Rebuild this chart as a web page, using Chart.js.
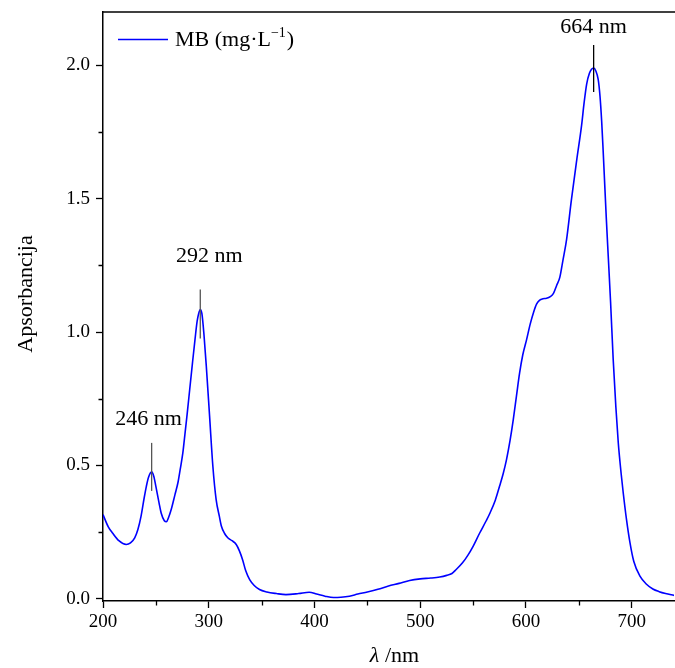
<!DOCTYPE html>
<html>
<head>
<meta charset="utf-8">
<script src="https://cdn.jsdelivr.net/npm/chart.js@4.4.1/dist/chart.umd.min.js"></script>
<style>
  html, body { margin: 0; padding: 0; background: #ffffff; }
  canvas { display: block; }
</style>
</head>
<body>
<canvas id="c" width="675" height="668"></canvas>
<script>
// ---- data ----
const wavelength = [
  200, 205, 209, 215, 222, 226, 230, 233, 236, 239, 241, 243, 246, 248, 250, 253, 255, 258, 260, 262,
  264.5, 268, 271, 273, 275.5, 277, 279.5, 282, 284.5, 287, 289, 290.5, 292, 293.5, 295.5, 297.7, 300.8, 303.9, 307, 310,
  312, 315, 318, 322, 326, 329, 332, 335, 338.7, 343, 348, 355, 364, 373, 385, 395, 402, 410, 418, 425,
  433, 441, 450, 460, 470, 480, 490, 500, 510, 518.5, 525, 530, 534, 540, 545, 550, 556, 562, 566, 571,
  575, 578.5, 581.6, 585, 588, 591, 594, 597, 600.6, 604, 607, 610, 613, 616, 619.5, 623, 626, 629, 632, 635,
  638.4, 643, 648, 652.6, 655, 657.4, 660, 662, 664, 666, 668.3, 670, 671.6, 673, 674.7, 676, 677.8, 680, 682.5, 685,
  687.3, 690, 692, 695, 698.4, 702, 707.8, 714, 720, 726, 732, 740
];
const absorbance = [
  0.316, 0.270, 0.247, 0.218, 0.204, 0.210, 0.229, 0.260, 0.310, 0.380, 0.422, 0.455, 0.476, 0.460, 0.422, 0.360, 0.322, 0.293, 0.289, 0.305,
  0.335, 0.390, 0.438, 0.485, 0.547, 0.600, 0.690, 0.785, 0.880, 0.972, 1.040, 1.070, 1.085, 1.070, 0.990, 0.872, 0.685, 0.497, 0.372, 0.310,
  0.272, 0.245, 0.229, 0.218, 0.204, 0.180, 0.147, 0.105, 0.072, 0.050, 0.035, 0.026, 0.020, 0.016, 0.020, 0.025, 0.018, 0.010, 0.005, 0.006,
  0.010, 0.018, 0.026, 0.036, 0.048, 0.058, 0.069, 0.075, 0.078, 0.082, 0.088, 0.095, 0.110, 0.135, 0.163, 0.197, 0.245, 0.290, 0.322, 0.370,
  0.422, 0.470, 0.522, 0.595, 0.672, 0.760, 0.847, 0.915, 0.972, 1.030, 1.072, 1.105, 1.120, 1.125, 1.127, 1.133, 1.145, 1.175, 1.205, 1.270,
  1.347, 1.497, 1.645, 1.775, 1.860, 1.930, 1.970, 1.985, 1.990, 1.980, 1.947, 1.885, 1.790, 1.680, 1.535, 1.425, 1.285, 1.115, 0.897, 0.720,
  0.585, 0.470, 0.397, 0.300, 0.210, 0.140, 0.085, 0.055, 0.037, 0.027, 0.020, 0.013
];
const xMajorTicks = [200, 300, 400, 500, 600, 700];
const xMinorTicks = [250, 350, 450, 550, 650];
const yMajorTicks = [0, 0.5, 1.0, 1.5, 2.0];
const yMinorTicks = [0.25, 0.75, 1.25, 1.75];
const peakWavelengths = [246, 292, 664];
const peakLabels = ['246 nm', '292 nm', '664 nm'];
const seriesLabel = 'MB (mg\u00B7L';
const xTitleSymbol = '\u03BB';
const xTitleUnit = ' /nm';
const yTitle = 'Apsorbancija';

// ---- styling ----
const SERIF = '"Liberation Serif", "Times New Roman", serif';
const peakStyles = [
  { color: '#555555', up: 29, down: 19, dx: -3, textUp: 47 },
  { color: '#555555', up: 20, down: 29, dx: 9, textUp: 47 },
  { color: '#000000', up: 23, down: 24, dx: 0, textUp: 35 }
];

const points = wavelength.map((x, i) => ({ x: x, y: absorbance[i] }));

const extras = {
  id: 'extras',
  afterDatasetsDraw(chart) {
    const ctx = chart.ctx;
    const area = chart.chartArea;
    const xs = chart.scales.x, ys = chart.scales.y;
    ctx.save();

    // top frame line
    ctx.strokeStyle = '#000';
    ctx.lineWidth = 1.5;
    ctx.beginPath();
    ctx.moveTo(area.left - 0.75, area.top);
    ctx.lineTo(chart.width, area.top);
    ctx.stroke();

    // minor ticks
    ctx.lineWidth = 1.3;
    ctx.beginPath();
    xMinorTicks.forEach(v => {
      const px = Math.round(xs.getPixelForValue(v)) + 0.5;
      ctx.moveTo(px, area.bottom);
      ctx.lineTo(px, area.bottom + 4.5);
    });
    yMinorTicks.forEach(v => {
      const py = Math.round(ys.getPixelForValue(v)) + 0.5;
      ctx.moveTo(area.left, py);
      ctx.lineTo(area.left - 4.5, py);
    });
    ctx.stroke();

    // peak markers and labels
    peakWavelengths.forEach((w, i) => {
      const idx = wavelength.indexOf(w);
      const px = xs.getPixelForValue(w);
      const py = ys.getPixelForValue(absorbance[idx]);
      const st = peakStyles[i];
      ctx.strokeStyle = st.color;
      ctx.lineWidth = 1.3;
      ctx.beginPath();
      ctx.moveTo(px, py - st.up);
      ctx.lineTo(px, py + st.down);
      ctx.stroke();
      ctx.fillStyle = '#000';
      ctx.font = '22px ' + SERIF;
      ctx.textAlign = 'center';
      ctx.textBaseline = 'alphabetic';
      ctx.fillText(peakLabels[i], px + st.dx, py - st.textUp);
    });

    // legend
    ctx.strokeStyle = '#0000ff';
    ctx.lineWidth = 1.5;
    ctx.beginPath();
    ctx.moveTo(118, 39.5);
    ctx.lineTo(168, 39.5);
    ctx.stroke();
    ctx.fillStyle = '#000';
    ctx.textAlign = 'left';
    ctx.textBaseline = 'alphabetic';
    ctx.font = '22px ' + SERIF;
    let lx = 175;
    ctx.fillText(seriesLabel, lx, 46);
    lx += ctx.measureText(seriesLabel).width;
    ctx.font = '14px ' + SERIF;
    ctx.fillText('\u22121', lx, 37);
    lx += ctx.measureText('\u22121').width + 1;
    ctx.font = '22px ' + SERIF;
    ctx.fillText(')', lx, 46);

    // x axis title
    ctx.font = 'italic 22px ' + SERIF;
    const w1 = ctx.measureText(xTitleSymbol).width;
    ctx.font = '22px ' + SERIF;
    const w2 = ctx.measureText(xTitleUnit).width;
    const cx = (area.left + area.right) / 2 + 6;
    let tx = cx - (w1 + w2) / 2;
    ctx.font = 'italic 22px ' + SERIF;
    ctx.fillText(xTitleSymbol, tx, 662);
    ctx.font = '22px ' + SERIF;
    ctx.fillText(xTitleUnit, tx + w1, 662);

    // y axis title
    ctx.save();
    ctx.translate(32, 294);
    ctx.rotate(-Math.PI / 2);
    ctx.textAlign = 'center';
    ctx.font = '22px ' + SERIF;
    ctx.fillText(yTitle, 0, 0);
    ctx.restore();

    ctx.restore();
  }
};

new Chart(document.getElementById('c'), {
  type: 'line',
  data: {
    datasets: [{
      label: 'MB',
      data: points,
      borderColor: '#0000ff',
      borderWidth: 1.6,
      pointRadius: 0,
      fill: false,
      cubicInterpolationMode: 'monotone'
    }]
  },
  options: {
    responsive: false,
    animation: false,
    devicePixelRatio: 1,
    layout: { padding: { top: 12, right: 1, left: 0, bottom: 0 } },
    plugins: { legend: { display: false }, tooltip: { enabled: false } },
    scales: {
      x: {
        type: 'linear',
        min: 200,
        max: 740,
        afterBuildTicks: s => { s.ticks = xMajorTicks.map(v => ({ value: v })); },
        afterFit: s => { s.height = 67; s.paddingLeft = 0; s.paddingRight = 0; },
        ticks: {
          callback: v => String(v),
          color: '#000',
          font: { family: SERIF, size: 19 },
          padding: 3,
          maxRotation: 0,
          autoSkip: false
        },
        grid: { drawOnChartArea: false, drawTicks: true, tickLength: 7, tickColor: '#000', tickWidth: 1.3 },
        border: { display: true, color: '#000', width: 1.5 }
      },
      y: {
        type: 'linear',
        min: -0.008,
        max: 2.2,
        afterBuildTicks: s => { s.ticks = yMajorTicks.map(v => ({ value: v })); },
        afterFit: s => { s.width = 103; s.paddingTop = 0; s.paddingBottom = 0; },
        ticks: {
          callback: v => Number(v).toFixed(1),
          color: '#000',
          font: { family: SERIF, size: 19 },
          padding: 6,
          autoSkip: false
        },
        grid: { drawOnChartArea: false, drawTicks: true, tickLength: 7, tickColor: '#000', tickWidth: 1.3 },
        border: { display: true, color: '#000', width: 1.5 }
      }
    }
  },
  plugins: [extras]
});
</script>
</body>
</html>
